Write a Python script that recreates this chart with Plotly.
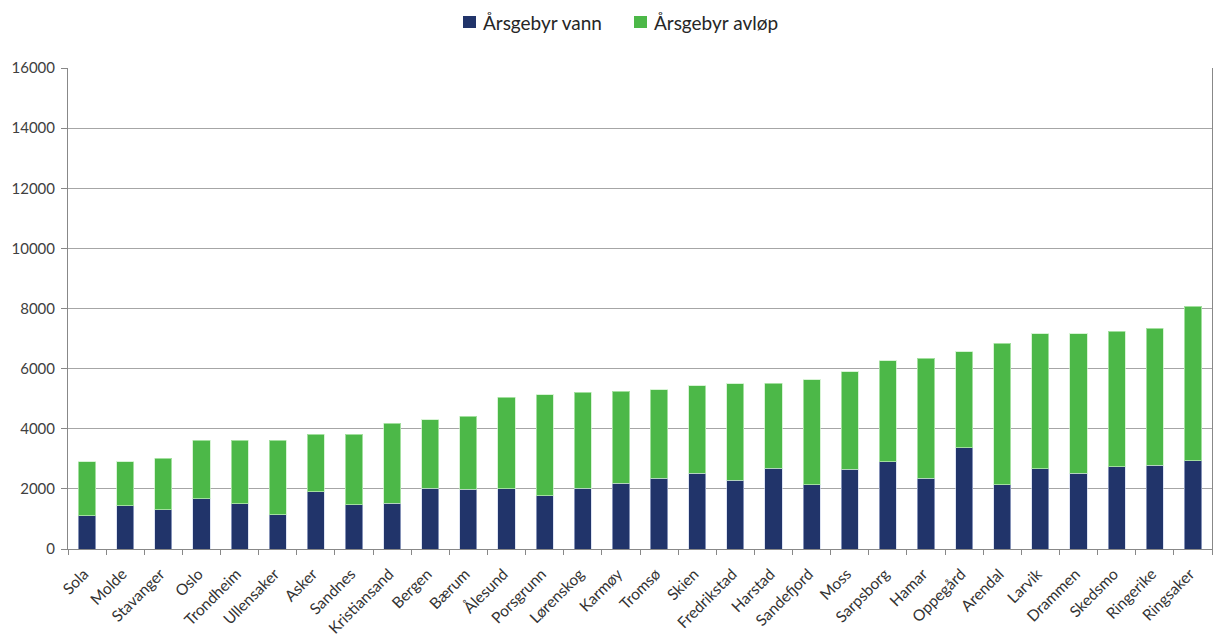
import plotly.graph_objects as go

kommuner = ["Sola", "Molde", "Stavanger", "Oslo", "Trondheim", "Ullensaker", "Asker", "Sandnes",
            "Kristiansand", "Bergen", "Bærum", "Ålesund", "Porsgrunn", "Lørenskog", "Karmøy",
            "Tromsø", "Skien", "Fredrikstad", "Harstad", "Sandefjord", "Moss", "Sarpsborg",
            "Hamar", "Oppegård", "Arendal", "Larvik", "Drammen", "Skedsmo", "Ringerike", "Ringsaker"]

vann = [1110, 1440, 1310, 1670, 1500, 1140, 1910, 1470, 1520, 2020, 1990, 2000, 1770, 2020, 2190,
        2350, 2520, 2280, 2680, 2130, 2650, 2900, 2350, 3360, 2130, 2670, 2520, 2730, 2790, 2930]

totalt = [2910, 2910, 3020, 3620, 3620, 3620, 3820, 3820, 4190, 4300, 4420, 5050, 5130, 5210, 5240,
          5300, 5430, 5500, 5520, 5630, 5900, 6260, 6340, 6560, 6840, 7160, 7160, 7240, 7350, 8080]

avlop = [t - v for t, v in zip(totalt, vann)]

serienavn = ["Årsgebyr vann", "Årsgebyr avløp"]
farger = ["#21346a", "#4cb848"]
kantfarger = ["rgba(200,210,235,0.6)", "rgba(200,240,195,0.7)"]

fig = go.Figure()
for navn, verdier, farge, kant in zip(serienavn, [vann, avlop], farger, kantfarger):
    fig.add_trace(go.Bar(x=kommuner, y=verdier, name=navn,
                         marker=dict(color=farge, line=dict(color=kant, width=1))))

W, H = 1214, 637
ML, MR, MT, MB = 68, 2, 68, 88
pw, ph = W - ML - MR, H - MT - MB


def px_x(x):
    return (x - ML) / pw


def px_y(y):
    return (H - MB - y) / ph


# manual legend (Excel-like: small square right next to text)
legend_pos = [(463, 481), (634, 652)]
shapes = []
annotations = []
for (sx, tx), navn, farge in zip(legend_pos, serienavn, farger):
    shapes.append(dict(type="rect", xref="paper", yref="paper",
                       x0=px_x(sx), x1=px_x(sx + 13), y0=px_y(28), y1=px_y(16),
                       fillcolor=farge, line=dict(width=0)))
    annotations.append(dict(text=navn, xref="paper", yref="paper", x=px_x(tx), y=px_y(22),
                            xanchor="left", yanchor="middle", showarrow=False,
                            font=dict(size=19, color="#262626")))

fig.update_layout(
    barmode="stack",
    bargap=0.55,
    width=W, height=H,
    margin=dict(l=ML, r=MR, t=MT, b=MB, autoexpand=False),
    paper_bgcolor="white", plot_bgcolor="white",
    font=dict(family="Lato, Open Sans, sans-serif", color="#404040"),
    showlegend=False,
    shapes=shapes,
    annotations=annotations,
)
fig.update_xaxes(
    type="category", tickangle=-45, tickfont=dict(size=15.5, color="#333333"),
    showline=True, linecolor="#888888", linewidth=1,
    ticks="outside", tickson="boundaries", ticklen=5, tickcolor="#888888",
    ticklabelstandoff=9, ticklabelshift=-3, automargin=False,
    showgrid=False,
)
fig.update_yaxes(
    range=[0, 16000], tickvals=list(range(0, 16001, 2000)), tickformat="d",
    tickfont=dict(size=15, color="#404040"),
    showgrid=True, gridcolor="#a6a6a6", gridwidth=1,
    showline=True, linecolor="#888888", linewidth=1, mirror=True,
    ticks="outside", ticklen=6, tickcolor="#888888", ticklabelstandoff=3,
    zeroline=False, automargin=False,
)

fig.write_html("out.html")
